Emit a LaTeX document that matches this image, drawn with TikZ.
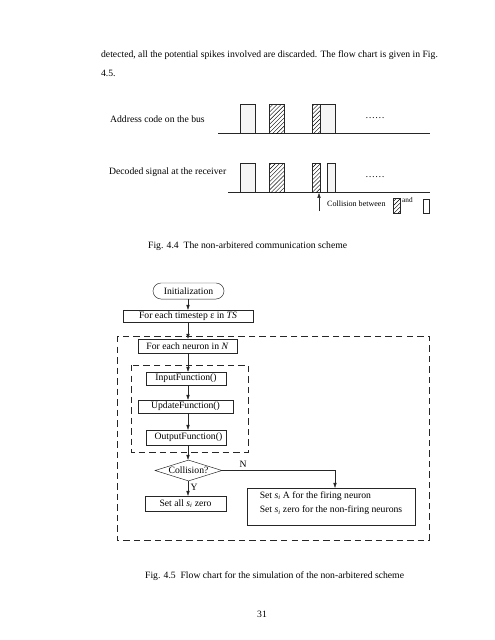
\documentclass[tikz,border=0pt]{standalone}
\usepackage{fontspec}
\setmainfont{Liberation Serif}
\usetikzlibrary{patterns.meta,shapes.geometric,arrows.meta}
\begin{document}
\begin{tikzpicture}[x=1.2364bp,y=-1.2364bp,
  every node/.style={font=\fontsize{12}{14}\selectfont, inner sep=0pt},
  txt/.style={anchor=west},
  ln/.style={line width=0.6pt, draw=black!85},
  box/.style={draw=black!85, line width=0.6pt, rectangle, inner sep=0pt, align=center},
  arr/.style={ln, -{Triangle[length=6pt,width=4pt]}},
  hatch/.style={pattern={Lines[angle=45,distance=3.6pt,line width=0.5pt]}},
  dashbox/.style={draw=black!85, line width=0.7pt, dash pattern=on 8bp off 5bp}]
\useasboundingbox (0,0) rectangle (495,640);

% body text
\node[txt] (p1) at (101,55) {detected, all the potential spikes involved are discarded. The flow chart is given in Fig.};
\node[txt] (p2) at (101,73) {4.5.};

% Fig 4.4
\node[txt] (lab1) at (110,119) {Address code on the bus};
\node[txt] (lab2) at (109,172) {Decoded signal at the receiver};
\coordinate (bus1a) at (218,133); \coordinate (bus1b) at (430,133);
\draw[ln] (bus1a) -- (bus1b);
\coordinate (bus2a) at (228,192); \coordinate (bus2b) at (430,192);
\draw[ln] (bus2a) -- (bus2b);
% top row pulses
\fill[black!4] (240,104) rectangle (255,133);
\draw[ln] (240,133) -- (240,104) -- (255,104) -- (255,133);
\fill[hatch] (269,104) rectangle (284,133);
\draw[ln] (269,133) -- (269,104) -- (284,104) -- (284,133);
\fill[hatch] (312,104) rectangle (320,133);
\fill[black!4] (320,104) rectangle (335,133);
\draw[ln] (312,133) -- (312,104) -- (335,104) -- (335,133);
\draw[ln] (320,104) -- (320,133);
\node (dots1) at (375,118) {……};
% bottom row pulses
\fill[black!4] (240,163) rectangle (255,192);
\draw[ln] (240,192) -- (240,163) -- (255,163) -- (255,192);
\fill[hatch] (269,163) rectangle (284,192);
\draw[ln] (269,192) -- (269,163) -- (284,163) -- (284,192);
\fill[hatch] (312,163) rectangle (320,192);
\draw[ln] (312,192) -- (312,163) -- (320,163) -- (320,192);
\fill[black!4] (327,163) rectangle (335,192);
\draw[ln] (327,192) -- (327,163) -- (335,163) -- (335,192);
\node (dots2) at (375,177) {……};
% collision arrow and legend
\coordinate (colltail) at (319,211);
\coordinate (collhead) at (319,193);
\draw[arr] (colltail) -- (collhead);
\node[txt, font=\fontsize{10}{12}\selectfont] (coll) at (327,204) {Collision between};
\fill[hatch] (393,198) rectangle (400,213);
\draw[ln] (393,198) rectangle (400,213);
\node[txt, font=\fontsize{9}{11}\selectfont] (and) at (402,200) {and};
\draw[ln] (423,199) rectangle (429,213);

\node[txt] (cap1) at (148,246) {Fig. 4.4\ \ The non-arbitered communication scheme};

% Fig 4.5 flow chart
\draw[dashbox] (117,336) rectangle (429,540);
\draw[dashbox] (131,365) rectangle (248,452);

\node[box, rounded corners=9.9bp, minimum width=87.8bp, minimum height=19.8bp] (init) at (188.5,291) {Initialization};
\node[box, minimum width=160.7bp, minimum height=14.8bp] (ts) at (188,316) {For each timestep ε in \textit{TS}};
\node[box, minimum width=122.4bp, minimum height=17.3bp] (neu) at (187.5,346) {For each neuron in \textit{N}};
\node[box, minimum width=98.9bp, minimum height=16.1bp] (inp) at (186,378.5) {InputFunction()};
\node[box, minimum width=117.5bp, minimum height=16.1bp] (upd) at (185.5,406.5) {UpdateFunction()};
\node[box, minimum width=98.9bp, minimum height=18.5bp] (out) at (186,437.5) {\hspace*{6bp}OutputFunction()};
\node[draw=black!85, line width=0.6pt, diamond, aspect=3.2, inner sep=0pt, minimum width=82.8bp, minimum height=26bp] (col) at (188.5,470.5) {Collision?};
\node[box, minimum width=100.1bp, minimum height=18.5bp] (setall) at (185.5,503.5) {Set all \textit{s}\textsubscript{\textit{i}} zero};
\node[box, minimum width=207.7bp, minimum height=45.7bp, align=left] (setA) at (331,506.5)
  {Set \textit{s}\textsubscript{\textit{i}} A for the firing neuron\\[4.5bp]
   Set \textit{s}\textsubscript{\textit{i}} zero for the non-firing neurons\rule[-11bp]{0pt}{0pt}};

\draw[arr] (init.south -| 188,0) -- (188,0 |- ts.north);
\draw[arr] (ts.south -| 188,0) -- (188,0 |- neu.north);
\draw[arr] (neu.south -| 188,0) -- (188,0 |- inp.north);
\draw[arr] (inp.south -| 188,0) -- (188,0 |- upd.north);
\draw[arr] (upd.south -| 188,0) -- (188,0 |- out.north);
\draw[arr] (out.south -| 188,0) -- (188,0 |- col.north);
\draw[arr] (col.south -| 188,0) -- (188,0 |- setall.north)
  node[pos=0.45, anchor=west, xshift=3bp] (ylab) {Y};
\draw[arr] (col.east) -- (335,0 |- col.east) -- (335,0 |- setA.north);
\node (nlab) at (243,464) {N};

\node[txt] (cap2) at (145,576) {Fig. 4.5\ \ Flow chart for the simulation of the non-arbitered scheme};
\node (page) at (262,614) {31};
\end{tikzpicture}
\end{document}
